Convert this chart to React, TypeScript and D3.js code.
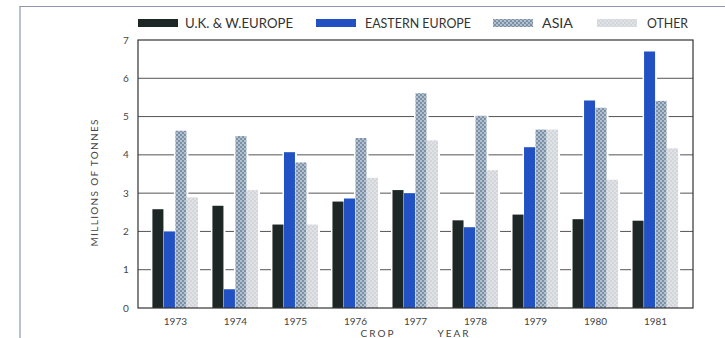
import React from 'react';
import * as d3 from 'd3';

const years = ['1973', '1974', '1975', '1976', '1977', '1978', '1979', '1980', '1981'];
const ukWEurope = [2.58, 2.67, 2.18, 2.78, 3.08, 2.29, 2.44, 2.32, 2.28];
const easternEurope = [2.0, 0.49, 4.07, 2.86, 3.0, 2.11, 4.2, 5.42, 6.7];
const asia = [4.63, 4.49, 3.8, 4.44, 5.61, 5.02, 4.66, 5.23, 5.41];
const other = [2.89, 3.08, 2.18, 3.4, 4.38, 3.6, 4.66, 3.35, 4.17];
const seriesNames = ['U.K. & W.EUROPE', 'EASTERN EUROPE', 'ASIA', 'OTHER'];
const yTicks = [0, 1, 2, 3, 4, 5, 6, 7];
const gridValues = [1, 2, 3, 4, 5, 6];

const W = 725;
const H = 338;
const FONT = 'Lato, "Open Sans", "DejaVu Sans", sans-serif';

export default function App() {
  const seriesData = [ukWEurope, easternEurope, asia, other];
  const fills = ['#1d2725', '#2251c4', 'url(#patAsia)', 'url(#patOther)'];

  const x = d3.scaleBand<string>().domain(years).range([138, 693]).paddingInner(0.233).paddingOuter(0.24);
  const xi = d3.scaleBand<string>().domain(seriesNames).range([0, x.bandwidth()]);
  const y = d3.scaleLinear().domain([0, 7]).range([308, 40]);

  const bars: { key: string; x: number; y: number; w: number; h: number; fill: string }[] = [];
  years.forEach((yr, i) => {
    seriesNames.forEach((s, j) => {
      const v = seriesData[j][i];
      bars.push({
        key: yr + s,
        x: (x(yr) as number) + (xi(s) as number),
        y: y(v),
        w: xi.bandwidth(),
        h: y(0) - y(v),
        fill: fills[j],
      });
    });
  });

  const legendSwatchX = [138, 316, 493, 597];
  const legendTextX = [185, 365, 542, 647];
  const legendTextW = [108, 106, 31, 41];

  return (
    <svg width={W} height={H} style={{ position: 'absolute', left: 0, top: 0, background: '#fff' }}>
      <defs>
        <pattern id="patAsia" patternUnits="userSpaceOnUse" width={4} height={4}>
          <rect width={4} height={4} fill="#7c90a8" />
          <rect x={0} y={0} width={2} height={2} fill="#b2c0ce" />
          <rect x={2} y={2} width={2} height={2} fill="#b2c0ce" />
        </pattern>
        <pattern id="patOther" patternUnits="userSpaceOnUse" width={4} height={4}>
          <rect width={4} height={4} fill="#d2d5d9" />
          <rect x={0} y={0} width={2} height={2} fill="#e0e2e5" />
          <rect x={2} y={2} width={2} height={2} fill="#e0e2e5" />
        </pattern>
      </defs>

      {/* outer page border */}
      <line x1={19.5} x2={W} y1={6.5} y2={6.5} stroke="#8e97ad" strokeWidth={1.2} />
      <line x1={20} x2={20} y1={6} y2={H} stroke="#8e97ad" strokeWidth={1.2} />

      {/* legend */}
      {seriesNames.map((s, j) => (
        <g key={s}>
          <rect x={legendSwatchX[j]} y={19} width={40} height={8} fill={fills[j]} />
          <text
            x={legendTextX[j]}
            y={28}
            fontFamily={FONT}
            fontSize={12.5}
            fill="#333"
            textLength={legendTextW[j]}
            lengthAdjust="spacingAndGlyphs"
          >
            {s}
          </text>
        </g>
      ))}

      {/* gridlines */}
      {gridValues.map((v) => (
        <line key={v} x1={138} x2={693} y1={y(v)} y2={y(v)} stroke="#555" strokeWidth={1} />
      ))}

      {/* white gaps around bars */}
      {bars.map((b) => (
        <rect key={'g' + b.key} x={b.x - 1.5} y={b.y - 2} width={b.w + 3} height={b.h + 2} fill="#fff" />
      ))}

      {/* bars */}
      {bars.map((b) => (
        <rect key={b.key} x={b.x} y={b.y} width={b.w - 0.5} height={b.h} fill={b.fill} />
      ))}

      {/* frame */}
      <rect x={138} y={40} width={555} height={268} fill="none" stroke="#333" strokeWidth={1.2} />

      {/* y tick labels */}
      {yTicks.map((t) => (
        <text key={t} x={126} y={y(t) + 3.5} textAnchor="middle" fontFamily={FONT} fontSize={10} fill="#444">
          {t}
        </text>
      ))}

      {/* y axis title */}
      <text
        transform="translate(98,183) rotate(-90)"
        textAnchor="middle"
        fontFamily={FONT}
        fontSize={10}
        fill="#444"
        textLength={127}
        lengthAdjust="spacing"
      >
        MILLIONS OF TONNES
      </text>

      {/* x tick labels */}
      {years.map((yr) => (
        <text
          key={yr}
          x={(x(yr) as number) + x.bandwidth() / 2}
          y={325}
          textAnchor="middle"
          fontFamily={FONT}
          fontSize={10}
          fill="#444"
        >
          {yr}
        </text>
      ))}

      {/* x axis title */}
      <text x={378} y={337} textAnchor="middle" fontFamily={FONT} fontSize={10} fill="#444" letterSpacing={2}>
        CROP
      </text>
      <text x={454} y={337} textAnchor="middle" fontFamily={FONT} fontSize={10} fill="#444" letterSpacing={2}>
        YEAR
      </text>
    </svg>
  );
}
